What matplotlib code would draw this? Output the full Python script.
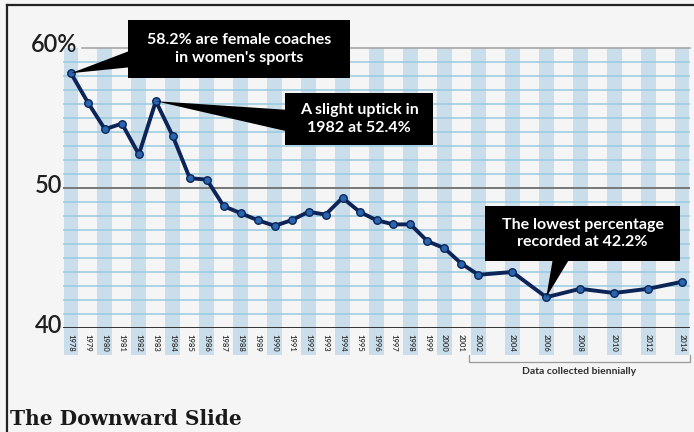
import matplotlib
matplotlib.use("Agg")
import matplotlib.pyplot as plt
from matplotlib.lines import Line2D
from matplotlib.patches import Polygon, Rectangle
import numpy as np

# share of women's college teams coached by women, 1978-2014
years = [1978, 1979, 1980, 1981, 1982, 1983, 1984, 1985, 1986, 1987, 1988,
         1989, 1990, 1991, 1992, 1993, 1994, 1995, 1996, 1997, 1998, 1999,
         2000, 2001, 2002, 2004, 2006, 2008, 2010, 2012, 2014]
pct = [58.2, 56.1, 54.2, 54.6, 52.4, 56.2, 53.7, 50.7, 50.6, 48.7, 48.2,
       47.7, 47.3, 47.7, 48.3, 48.1, 49.3, 48.3, 47.7, 47.4, 47.4, 46.2,
       45.7, 44.6, 43.8, 44.0, 42.2, 42.8, 42.5, 42.8, 43.3]
y_ticks = [40, 50, 60]
y_tick_labels = ["40", "50", "60%"]

BG = "#f5f5f5"
STRIPE = "#c9deea"
GRID = "#97cae0"
NAVY = "#0c2457"
DOT = "#2a66b0"
SANS = ["Lato", "DejaVu Sans"]

W, H = 694, 432
fig = plt.figure(figsize=(W / 100, H / 100), dpi=100, facecolor=BG)
ax = fig.add_axes([63 / W, (H - 328) / H, 627 / W, 280 / H])
ax.set_facecolor(BG)
ax.set_xlim(1977.53, 2014.47)
ax.set_ylim(40, 60)
for s in ax.spines.values():
    s.set_visible(False)

# alternating year bands, running down behind the year labels
stripe_years = np.arange(years[0], years[-1] + 1, 2)
ax.bar(stripe_years, 60 - 38.07, bottom=38.07, width=0.88, color=STRIPE,
       zorder=0, clip_on=False)

# 1-point grid
for v in range(41, 60):
    ax.axhline(v, color=GRID, lw=1.1, zorder=1)
ax.axhline(50, color="#777777", lw=1.4, zorder=2)
ax.plot([1978.65, 2014.47], [60, 60], color="#a0a0a0", lw=1.1, zorder=2,
        clip_on=False)
ax.axhline(40, color="#222222", lw=2.0, zorder=2)

# y labels drawn by hand (large, hanging left of the plot)
for v, lab in zip(y_ticks, y_tick_labels):
    x_at = 1978.35 if lab.endswith("%") else 1977.47
    ax.text(x_at, v + (0.25 if v == 60 else 0.2), lab, ha="right", va="center",
            fontsize=17, fontweight="semibold", color="#1f1f1f", family=SANS,
            clip_on=False)
ax.set_yticks([])

ax.set_xticks(years)
ax.set_xticklabels([str(y) for y in years], rotation=270, fontsize=5.5,
                   fontweight="semibold", color="#2e2e2e", family=SANS)
ax.tick_params(axis="x", length=0, pad=4)

# the series
ax.plot(years, pct, color=NAVY, lw=2.8, zorder=5, solid_joinstyle="round")
ax.plot(years, pct, "o", ms=5.4, mfc=DOT, mec=NAVY, mew=1.0, zorder=6)


def callout(x0, x1, y0, y1, text, wedge):
    ax.add_patch(Polygon(wedge, closed=True, fc="black", ec="none",
                         zorder=7, clip_on=False))
    ax.add_patch(Rectangle((x0, y0), x1 - x0, y1 - y0, fc="black", ec="none",
                           zorder=8, clip_on=False))
    ax.text((x0 + x1) / 2, (y0 + y1) / 2, text, ha="center", va="center",
            color="white", fontsize=11.5, fontweight="bold", family=SANS,
            linespacing=1.35, zorder=9, clip_on=False)


i78, i83, i06 = years.index(1978), years.index(1983), years.index(2006)
callout(1981.36, 1994.44, 57.86, 62.0,
        "58.2% are female coaches\nin women's sports",
        [(years[i78], pct[i78]), (1981.6, 59.86), (1981.6, 58.64)])
callout(1990.61, 1999.33, 53.07, 56.79,
        "A slight uptick in\n1982 at 52.4%",
        [(years[i83], pct[i83]), (1990.9, 55.57), (1990.9, 54.0)])
callout(2002.40, 2013.89, 44.79, 48.71,
        "The lowest percentage\nrecorded at 42.2%",
        [(years[i06], pct[i06]), (2006.4, 45.0), (2007.4, 45.0)])

# bracket for the biennial years
bx0, bx1, by, bt = 2001.45, 2014.48, 37.57, 38.07
ax.plot([bx0, bx0, bx1, bx1], [bt, by, by, bt], color="#9a9a9a", lw=0.9,
        clip_on=False, zorder=3)
ax.text((bx0 + bx1) / 2 - 0.05, 36.86, "Data collected biennially", ha="center",
        va="center", fontsize=7.5, fontweight="bold", color="#2e2e2e",
        family=SANS, clip_on=False)

# frame rule on top and left
fig.add_artist(Line2D([7 / W, 1.0], [(H - 5) / H] * 2, color="#222222",
                      lw=1.6, transform=fig.transFigure))
fig.add_artist(Line2D([7 / W] * 2, [0, (H - 5) / H], color="#222222",
                      lw=1.6, transform=fig.transFigure))

fig.text(10 / W, (H - 425) / H, "The Downward Slide", ha="left", va="baseline",
         fontsize=14.5, fontweight="bold", family=["DejaVu Serif"],
         color="#1a1a1a")

fig.savefig("out.png", dpi=100, facecolor=BG)
